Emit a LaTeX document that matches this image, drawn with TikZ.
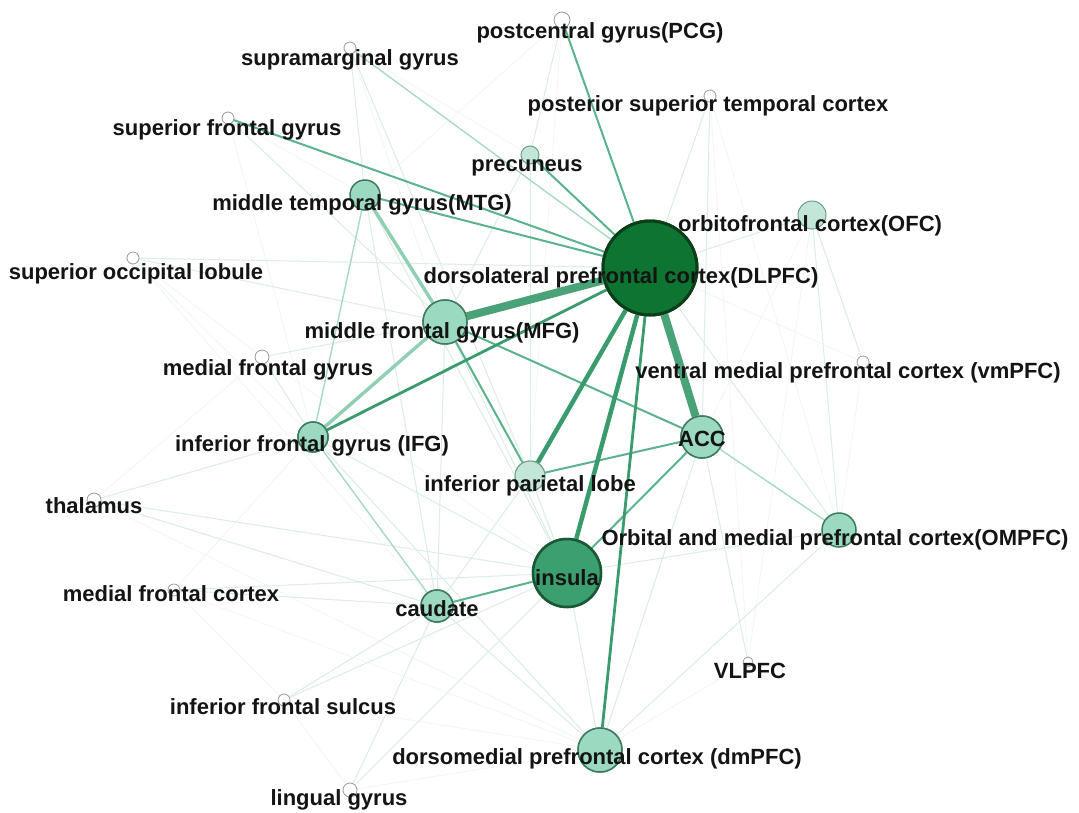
\documentclass[tikz,border=0pt]{standalone}
\usepackage{fontspec}
\setmainfont{Liberation Sans}
\begin{document}
\begin{tikzpicture}[x=1pt,y=-1pt]
\definecolor{dlfill}{HTML}{0E7432}
\definecolor{dlline}{HTML}{083E18}
\definecolor{infill}{HTML}{3B9F6F}
\definecolor{inline}{HTML}{1B5637}
\definecolor{tealfill}{HTML}{9BD9C0}
\definecolor{tealline}{HTML}{3E7A5F}
\definecolor{ltfill}{HTML}{C2E7D8}
\definecolor{ltline}{HTML}{6E9E88}
\definecolor{edgeA}{HTML}{F0F7F4}
\definecolor{edgeB}{HTML}{DAEEE5}
\definecolor{edgeC}{HTML}{A8DAC3}
\definecolor{edgeW}{HTML}{8FCFB2}
\definecolor{edgeD}{HTML}{5AB38B}
\definecolor{edgeE}{HTML}{3A9B6C}
\tikzset{
  region/.style={circle,inner sep=0pt,minimum size=#1},
  hub/.style={region=#1,fill=dlfill,draw=dlline,line width=3pt},
  mid/.style={region=#1,fill=infill,draw=inline,line width=2.5pt},
  tealnode/.style={region=#1,fill=tealfill,draw=tealline,line width=1.5pt},
  ltnode/.style={region=#1,fill=ltfill,draw=ltline,line width=1pt},
  tiny/.style={region=#1,fill=white,draw=black!40,line width=0.8pt},
  lbl/.style={anchor=base,inner sep=0pt,font=\fontsize{22}{24}\selectfont\bfseries,text=black!92},
  ea/.style={draw=edgeA,line width=0.8pt},
  eb/.style={draw=edgeB,line width=1pt},
  ec/.style={draw=edgeC,line width=1.4pt},
  ecw/.style={draw=edgeW,line width=3.4pt},
  ed/.style={draw=edgeD,line width=2pt},
  ee/.style={draw=edgeE,line width=2.8pt},
  ef/.style={draw=edgeE,line width=4.5pt},
  eg/.style={draw=edgeE!92!white,line width=8pt}
}
\useasboundingbox (0,0) rectangle (1079,812);
\fill[white] (0,0) rectangle (1079,812);

% region positions (drawn once more above the connections)
\coordinate (pcg)   at (562,20);
\coordinate (sm)    at (350,48);
\coordinate (pstc)  at (710,96);
\coordinate (sfg)   at (228,118);
\coordinate (prec)  at (530,155);
\coordinate (mtg)   at (365,195);
\coordinate (ofc)   at (812,215);
\coordinate (sol)   at (133,258);
\coordinate (mfgy)  at (262,357);
\coordinate (vmpfc) at (863,362);
\coordinate (thal)  at (94,500);
\coordinate (mfc)   at (174,590);
\coordinate (vlpfc) at (748,662);
\coordinate (ifs)   at (284,700);
\coordinate (ling)  at (350,790);
\coordinate (ompfc) at (839,530);
% larger regions are nodes, so connectors stop at their rims
\node[hub=94pt]      (dlpfc) at (650,268) {};
\node[tealnode=44pt] (mfg)   at (445,322) {};
\node[tealnode=30pt] (ifg)   at (313,437) {};
\node[tealnode=42pt] (acc)   at (702,437) {};
\node[ltnode=30pt]   (ipl)   at (530,476) {};
\node[mid=68pt]      (ins)   at (567,573) {};
\node[tealnode=32pt] (caud)  at (437,606) {};
\node[tealnode=44pt] (dmpfc) at (600,750) {};

% faint connections
\foreach \a/\b in {sol/ifg,mfc/ifg,ling/ifs,mfc/ifs,thal/mfgy,sol/mfgy,sfg/mtg,sm/prec,pcg/mtg,pcg/ipl,
  pstc/vlpfc,vmpfc/ompfc,vmpfc/dlpfc,ofc/acc,ling/dmpfc,ifs/dmpfc,mfc/dmpfc,thal/dmpfc,sfg/ifg,
  sm/mfg,sol/caud,mfgy/ins,vlpfc/dmpfc,ofc/vlpfc,pstc/ompfc}
  \draw[ea] (\a) -- (\b);
% light connections
\foreach \a/\b in {ifg/ins,thal/ifg,thal/ins,thal/caud,mfc/ins,mfc/caud,ifs/ins,ifs/caud,ling/ins,ling/caud,
  caud/dmpfc,ins/dmpfc,acc/dmpfc,acc/vlpfc,ompfc/dmpfc,dlpfc/ompfc,ofc/dlpfc,ofc/ompfc,ofc/vmpfc,
  pstc/dlpfc,pstc/acc,sol/dlpfc,sol/mfg,mfgy/mfg,sfg/mfg,sm/mtg,sm/ipl,pcg/prec,prec/mfg,prec/ipl,
  mtg/caud,mtg/ins,mfg/caud,mfg/ins,ipl/ins,ipl/caud,ifg/dmpfc,ompfc/ins,mfgy/ifg}
  \draw[eb] (\a) -- (\b);
% medium connections
\foreach \a/\b in {ifg/caud,mtg/ifg,acc/ompfc,dlpfc/sm}
  \draw[ec] (\a) -- (\b);
\draw[ecw] (mtg) -- (mfg);
\draw[ecw] (mfg) -- (ifg);
\foreach \a/\b in {dlpfc/pcg,dlpfc/sfg,dlpfc/mtg,dlpfc/prec,mfg/acc,mfg/ipl,ipl/acc,ins/caud,acc/ins}
  \draw[ed] (\a) -- (\b);
% strong connections
\draw[ee] (dlpfc) -- (dmpfc);
\draw[ee] (dlpfc) -- (ifg);
\draw[ef] (dlpfc) -- (ins);
\draw[ef] (dlpfc) -- (ipl);
\draw[eg] (dlpfc) -- (mfg);
\draw[eg] (dlpfc) -- (acc);

% region circles above the connections
\node[tiny=16pt]     at (pcg)   {};
\node[tiny=12pt]     at (sm)    {};
\node[tiny=12pt]     at (pstc)  {};
\node[tiny=12pt]     at (sfg)   {};
\node[ltnode=18pt]   at (prec)  {};
\node[tealnode=30pt] at (mtg)   {};
\node[ltnode=28pt]   at (ofc)   {};
\node[hub=94pt]      at (dlpfc) {};
\node[tiny=12pt]     at (sol)   {};
\node[tealnode=44pt] at (mfg)   {};
\node[tiny=14pt]     at (mfgy)  {};
\node[tiny=12pt]     at (vmpfc) {};
\node[tealnode=30pt] at (ifg)   {};
\node[tealnode=42pt] at (acc)   {};
\node[ltnode=30pt]   at (ipl)   {};
\node[tiny=14pt]     at (thal)  {};
\node[tealnode=34pt] at (ompfc) {};
\node[mid=68pt]      at (ins)   {};
\node[tiny=12pt]     at (mfc)   {};
\node[tealnode=32pt] at (caud)  {};
\node[tiny=10pt]     at (vlpfc) {};
\node[tiny=12pt]     at (ifs)   {};
\node[tealnode=44pt] at (dmpfc) {};
\node[tiny=14pt]     at (ling)  {};

% labels
\node[lbl] (tpcg)   at (600,38)  {postcentral gyrus(PCG)};
\node[lbl] (tsm)    at (350,65)  {supramarginal gyrus};
\node[lbl] (tpstc)  at (708,111) {posterior superior temporal cortex};
\node[lbl] (tsfg)   at (227,135) {superior frontal gyrus};
\node[lbl] (tprec)  at (527,171) {precuneus};
\node[lbl] (tmtg)   at (362,210) {middle temporal gyrus(MTG)};
\node[lbl] (tofc)   at (810,231) {orbitofrontal cortex(OFC)};
\node[lbl] (tdlpfc) at (621,283) {dorsolateral prefrontal cortex(DLPFC)};
\node[lbl] (tsol)   at (136,279) {superior occipital lobule};
\node[lbl] (tmfg)   at (442,338) {middle frontal gyrus(MFG)};
\node[lbl] (tmfgy)  at (268,375) {medial frontal gyrus};
\node[lbl] (tvmpfc) at (848,378) {ventral medial prefrontal cortex (vmPFC)};
\node[lbl] (tifg)   at (312,451) {inferior frontal gyrus (IFG)};
\node[lbl] (tacc)   at (702,446) {ACC};
\node[lbl] (tipl)   at (530,491) {inferior parietal lobe};
\node[lbl] (tthal)  at (94,513)  {thalamus};
\node[lbl] (tompfc) at (835,545) {Orbital and medial prefrontal cortex(OMPFC)};
\node[lbl] (tins)   at (567,585) {insula};
\node[lbl] (tmfc)   at (171,601) {medial frontal cortex};
\node[lbl] (tcaud)  at (437,616) {caudate};
\node[lbl] (tvlpfc) at (750,678) {VLPFC};
\node[lbl] (tifs)   at (283,714) {inferior frontal sulcus};
\node[lbl] (tdmpfc) at (597,764) {dorsomedial prefrontal cortex (dmPFC)};
\node[lbl] (tling)  at (339,805) {lingual gyrus};
\end{tikzpicture}
\end{document}
